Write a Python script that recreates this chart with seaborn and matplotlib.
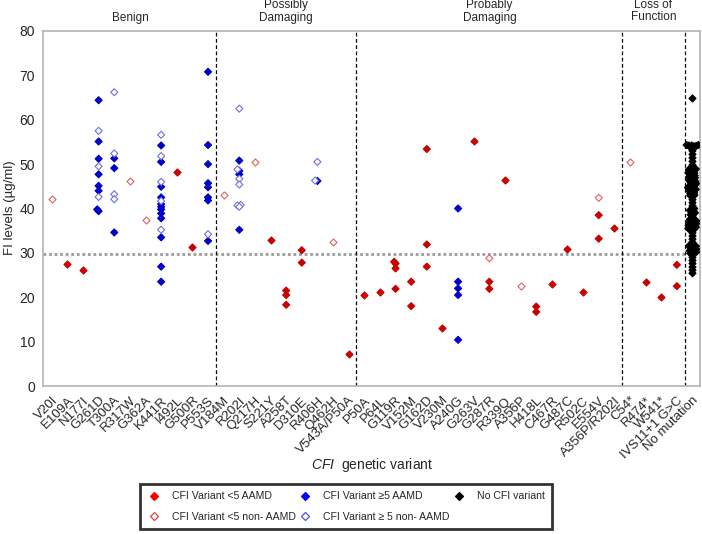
import numpy as np
import pandas as pd
import matplotlib
matplotlib.use("Agg")
import matplotlib.pyplot as plt
from matplotlib.lines import Line2D
from matplotlib.colors import to_hex
import seaborn as sns

# ---------------- data ----------------
variants = ["V20I", "E109A", "N177I", "G261D", "T300A", "R317W", "G362A", "K441R",
            "I492L", "G500R", "P553S",
            "V184M", "R202I", "Q217H", "S221Y", "A258T", "D310E", "R406H", "Q462H",
            "V543A/P50A",
            "P50A", "P64L", "G119R", "V152M", "G162D", "V230M", "A240G", "G263V",
            "G287R", "R339Q", "A356P", "H418L", "C467R", "G487C", "R502C", "E554V",
            "A356P/R202I",
            "C54*", "R474*", "W541*", "IVS11+1 G>C",
            "No mutation"]

group_names = [["Benign"], ["Possibly", "Damaging"], ["Probably", "Damaging"],
               ["Loss of", "Function"]]
group_first_last = [("V20I", "P553S"), ("V184M", "V543A/P50A"),
                    ("P50A", "A356P/R202I"), ("C54*", "IVS11+1 G>C")]

threshold = 29.7

red_filled = {
    "E109A": [27.4], "N177I": [26.2], "I492L": [48.2], "G500R": [31.4],
    "S221Y": [33.0], "A258T": [21.5, 20.5, 18.3], "D310E": [30.6, 27.8],
    "V543A/P50A": [7.2], "P50A": [20.6], "P64L": [21.2],
    "G119R": [28.0, 27.6, 26.5, 21.9], "V152M": [23.5, 18.0],
    "G162D": [53.4, 31.9, 26.9], "V230M": [13.0], "G263V": [55.3],
    "G287R": [23.5, 21.9], "R339Q": [46.4], "H418L": [17.9, 16.7],
    "C467R": [22.9], "G487C": [30.8], "R502C": [21.2], "E554V": [38.5, 33.2],
    "A356P/R202I": [35.6], "R474*": [23.5], "W541*": [20.0],
    "IVS11+1 G>C": [27.3, 22.5],
}
red_open = {
    "V20I": [42.1], "R317W": [46.2], "G362A": [37.4], "V184M": [43.0],
    "Q217H": [50.5], "Q462H": [32.5], "G287R": [28.8], "A356P": [22.5],
    "E554V": [42.4], "C54*": [50.5],
}
blue_filled = {
    "G261D": [64.4, 55.1, 51.2, 47.7, 45.1, 44.0, 39.8, 39.4],
    "T300A": [51.3, 49.1, 34.6],
    "K441R": [54.2, 50.5, 44.9, 42.5, 41.0, 40.4, 39.8, 38.9, 37.8, 33.5, 26.9, 23.5],
    "P553S": [70.8, 54.3, 50.0, 45.7, 44.8, 42.5, 41.8, 32.7],
    "R202I": [50.8, 48.5, 47.7, 35.2],
    "R406H": [46.2],
    "A240G": [40.0, 23.5, 22.0, 20.5, 10.4],
}
blue_open = {
    "G261D": [57.5, 49.5, 42.6],
    "T300A": [66.2, 52.4, 43.2, 42.1],
    "K441R": [56.6, 51.8, 46.0, 41.7, 35.2],
    "P553S": [34.2],
    "R202I": [62.5, 48.8, 46.7, 45.4, 40.8, 40.7, 40.4],
    "R406H": [50.5, 46.3],
}
no_mutation = [64.8,
               54.3, 54.3, 54.2, 54.2, 54.1, 54.0, 53.8, 53.6,
               53.0, 52.2, 51.4, 50.6, 49.8,
               48.9, 48.8, 48.7, 48.5, 48.4, 48.2, 48.0, 47.9, 47.7, 47.6, 47.4,
               47.2, 47.1, 46.9, 46.8, 46.6, 46.4, 46.3, 46.1, 46.0, 45.8, 45.6,
               45.5, 45.3, 45.2, 45.0,
               44.7, 44.6, 44.5, 44.3, 44.2, 44.0, 43.9, 43.7, 43.5, 43.4, 43.2,
               43.0, 42.9, 42.7,
               42.0, 41.3, 40.6,
               40.0, 39.8, 39.6, 39.4, 39.2, 39.0, 38.8, 38.6, 38.3,
               37.6, 37.5, 37.4, 37.2, 37.1, 36.9, 36.8, 36.6, 36.5, 36.4, 36.2,
               36.1, 35.9, 35.8, 35.6, 35.5, 35.4, 35.2, 35.1,
               34.5, 33.8, 33.1, 32.4,
               31.6, 31.5, 31.4, 31.2, 31.1, 30.9, 30.8, 30.6, 30.5, 30.4, 30.2,
               30.1, 29.9, 29.7,
               29.0, 28.3, 27.6, 26.8, 26.1, 25.4]

classes = ["CFI Variant <5 AAMD", "CFI Variant <5 non- AAMD",
           "CFI Variant \u22655 AAMD", "CFI Variant \u2265 5 non- AAMD",
           "No CFI variant"]

# ---------------- styling ----------------
RED = "#c80000"
RED_OPEN = "#e06060"
BLUE = "#0000cc"
BLUE_OPEN = "#7070e0"
BLACK = "#000000"
key_colors = ["#c80000", "#e06061", "#0000cc", "#7070e1", "#000000"]  # unique ids
face_style = [RED, "white", BLUE, "white", BLACK]
edge_style = [RED, RED_OPEN, BLUE, BLUE_OPEN, BLACK]

sns.set_style("white")
plt.rcParams["font.family"] = ["Liberation Sans", "DejaVu Sans"]
plt.rcParams["mathtext.fontset"] = "custom"
plt.rcParams["mathtext.rm"] = "Liberation Sans"
plt.rcParams["mathtext.it"] = "Liberation Sans:italic"

rows = []
for cls, dct in zip(classes[:4], [red_filled, red_open, blue_filled, blue_open]):
    for v, vals in dct.items():
        for y in vals:
            rows.append((v, y, cls))
for y in no_mutation:
    rows.append(("No mutation", y, classes[4]))
df = pd.DataFrame(rows, columns=["variant", "value", "cls"])

W, H = 702, 534
fig = plt.figure(figsize=(W / 100, H / 100), dpi=100)
ax = fig.add_axes([43.3 / W, 1 - 386 / H, (700 - 43.3) / W, 355 / H])

ax.axhline(threshold, color="#9a9a9a", ls=(0, (1, 1)), lw=2, zorder=1)

sns.swarmplot(data=df, x="variant", y="value", hue="cls", order=variants,
              hue_order=classes, palette=key_colors, marker="D", size=1.6,
              linewidth=0, dodge=False, legend=False, ax=ax, zorder=3,
              warn_thresh=1.0)

idx = {v: i for i, v in enumerate(variants)}
for b in [idx["P553S"] + 0.5, idx["V543A/P50A"] + 0.5, idx["A356P/R202I"] + 0.5,
          idx["IVS11+1 G>C"] + 0.5]:
    ax.axvline(b, color="black", ls=(0, (3, 2)), lw=0.9, zorder=2)

ax.set_xlim(-0.54, 41.48)
ax.set_ylim(0, 80)
ax.set_yticks(np.arange(0, 81, 10))
ax.set_xticks(range(len(variants)))
ax.set_xticklabels(variants, rotation=45, ha="right", va="top",
                   rotation_mode="anchor", fontsize=9.5)
ax.tick_params(axis="y", labelsize=10, length=4, color="#aaaaaa", width=1, pad=2)
ax.tick_params(axis="x", length=4, color="#aaaaaa", width=1, pad=2)
ax.set_xlabel("")
ax.set_ylabel("")
for s in ax.spines.values():
    s.set_color("#b4b4b4")
    s.set_linewidth(1.2)

# group headers
tr = ax.get_xaxis_transform()
for names, (f, l) in zip(group_names, group_first_last):
    cx = (idx[f] + idx[l]) / 2
    if len(names) == 1:
        ax.text(cx, 1 + (31 - 17.5) / 355, names[0], transform=tr, ha="center",
                va="center", fontsize=8.5)
    else:
        ax.text(cx, 1 + (31 - 5.3) / 355, names[0], transform=tr, ha="center",
                va="center", fontsize=8.5)
        ax.text(cx, 1 + (31 - 17.5) / 355, names[1], transform=tr, ha="center",
                va="center", fontsize=8.5)

fig.text(372 / W, 1 - 465 / H, r"$\it{CFI}$  genetic variant", ha="center",
         va="center", fontsize=10)
fig.text(10 / W, 1 - 208 / H, "FI levels (\u00b5g/ml)", rotation=90, ha="center",
         va="center", fontsize=9.5)

# finalize swarm positions with small markers, then restyle
fig.canvas.draw()
hex_to_k = {to_hex(c): k for k, c in enumerate(key_colors)}
for coll in ax.collections:
    offs = coll.get_offsets()
    if len(offs) == 0:
        continue
    fcs = coll.get_facecolors()
    if len(fcs) == 1 and len(offs) > 1:
        fcs = np.repeat(fcs, len(offs), axis=0)
    ks = [hex_to_k.get(to_hex(fc), 4) for fc in fcs]
    coll.set_facecolors([face_style[k] for k in ks])
    coll.set_edgecolors([edge_style[k] for k in ks])
    coll.set_linewidths(0.8)
    if "draw" in coll.__dict__:
        del coll.draw
    coll.set_sizes([3.6 ** 2])

leg_face = ["#ff0000", "white", "#0000ff", "white", "#000000"]
leg_edge = ["#ff0000", "#e04040", "#0000ff", "#5050e0", "#000000"]
handles = [Line2D([], [], ls="none", marker="D", markersize=4.3,
                  markerfacecolor=leg_face[k], markeredgecolor=leg_edge[k],
                  markeredgewidth=0.9) for k in range(5)]
leg = fig.legend(handles, classes, ncol=3, loc="center",
                 bbox_to_anchor=(346 / W, 1 - 506.5 / H), frameon=True,
                 fancybox=False, fontsize=7.6, handlelength=1.2,
                 handletextpad=1.1, columnspacing=0.3, borderpad=0.7,
                 labelspacing=1.0, borderaxespad=0)
leg.get_frame().set_edgecolor("black")
leg.get_frame().set_linewidth(2)

fig.savefig("out.png", dpi=100)
